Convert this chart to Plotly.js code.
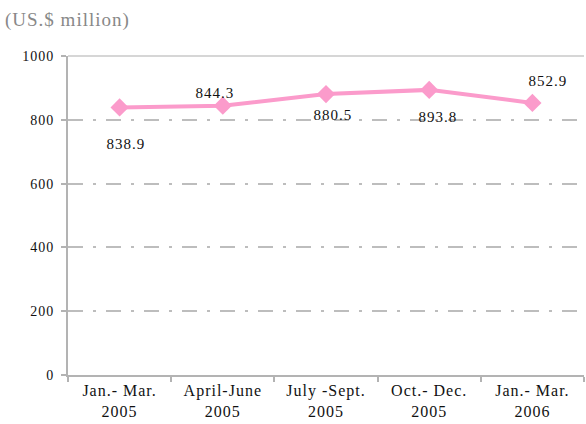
<!DOCTYPE html>
<html><head><meta charset="utf-8">
<script src="https://cdn.plot.ly/plotly-3.0.1.min.js"></script>
<style>html,body{margin:0;padding:0;background:#fff}
#chart text{letter-spacing:1px}</style>
</head><body>
<div id="chart" style="width:586px;height:424px"></div>
<script>
var categories = ["Jan.- Mar.<br>2005", "April-June<br>2005", "July -Sept.<br>2005", "Oct.- Dec.<br>2005", "Jan.- Mar.<br>2006"];
var values = [838.9, 844.3, 880.5, 893.8, 852.9];
var labelTexts = ["838.9", "844.3", "880.5", "893.8", "852.9"];
var labelShifts = [-37, 13, -21, -27, 22];
var labelXShifts = [6, -8, 7, 9, 16];

var trace = {
  x: categories, y: values, type: "scatter", mode: "lines+markers",
  line: {color: "#fb9bcb", width: 4},
  marker: {symbol: "diamond", size: 14, color: "#fb9bcb"},
  hoverinfo: "none"
};
var serif = "Liberation Serif, Times New Roman, serif";
var annotations = values.map(function(v, i){
  return {x: categories[i], y: v, text: labelTexts[i], showarrow: false,
    yshift: labelShifts[i], xshift: labelXShifts[i],
    font: {family: serif, size: 15, color: "#111"}};
});
annotations.push({xref: "paper", yref: "paper", x: -0.112, y: 1.113, xanchor: "left", yanchor: "middle",
  text: "(US.$ million)", showarrow: false,
  font: {family: serif, size: 19, color: "#888"}});

var layout = {
  width: 586, height: 424,
  margin: {l: 68, r: 2, t: 56, b: 49},
  paper_bgcolor: "#fff", plot_bgcolor: "#fff",
  showlegend: false,
  font: {family: serif, size: 14, color: "#000"},
  xaxis: {type: "category", range: [-0.5, 4.5], showline: true, linecolor: "#b3b3b3", linewidth: 2,
    ticks: "outside", tickson: "boundaries", ticklen: 5, tickcolor: "#b3b3b3", tickwidth: 2,
    showgrid: false, zeroline: false, tickfont: {size: 16, color: "#111"}},
  yaxis: {range: [0, 1000], dtick: 200, showline: true, linecolor: "#b3b3b3", linewidth: 2,
    ticks: "outside", ticklen: 5, tickcolor: "#b3b3b3", tickwidth: 2,
    showgrid: true, gridcolor: "#bdbdbd", gridwidth: 2, griddash: "15px,10px,3px,10px",
    zeroline: false, tickfont: {size: 14, color: "#111"}, ticklabelstandoff: 4},
  shapes: [{type: "line", xref: "paper", yref: "paper", x0: 0, x1: 1, y0: 1, y1: 1,
    line: {color: "#d6d6d6", width: 2}, layer: "above"}],
  annotations: annotations
};
Plotly.newPlot("chart", [trace], layout, {displayModeBar: false, staticPlot: true});
</script>
</body></html>
